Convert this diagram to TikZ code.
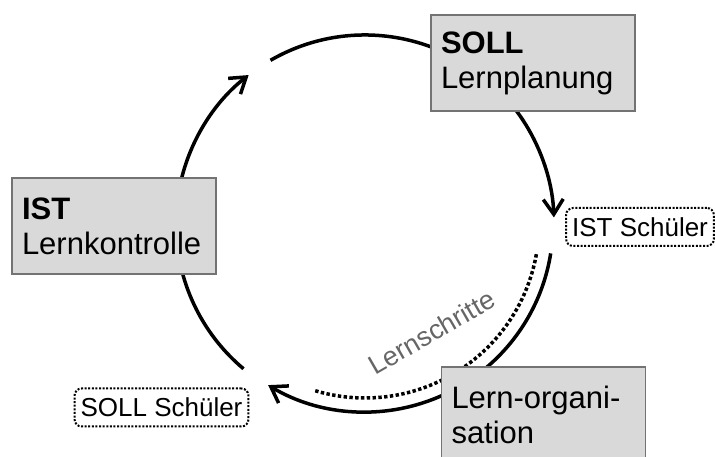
\documentclass[tikz,border=0pt]{standalone}
\usepackage{fontspec}
\setmainfont{Liberation Sans}
\usetikzlibrary{positioning,arrows.meta,calc}
\tikzset{
    x=1pt,
    y=1pt,
    block/.style = {
        draw=black!55,
        fill=black!15,
        shape=rectangle,
        minimum height=96pt,
        text width=184pt,
        inner xsep=10pt,
        align=left,
        line width=1.2pt,
        font=\fontsize{31}{35}\selectfont
    },
    pupil/.style = {
        draw,
        shape=rectangle,
        rounded corners=7pt,
        dash pattern=on 2pt off 1.6pt,
        line width=2pt,
        minimum height=38pt,
        inner xsep=6pt,
        font=\fontsize{26}{30}\selectfont
    },
    cycle/.style = {
        line width=3.5pt
    },
    >={Straight Barb[length=15pt,width=20pt]},
}

\begin{document}
\begin{tikzpicture}
    \clip (0,0) rectangle (715,457);
    \coordinate (mid) at (365,233);

    % the learning cycle
    \draw[cycle, ->] ($(mid)+(166:189pt)$) arc[start angle=166, end angle=128, radius=189pt];
    \draw[cycle, ->] ($(mid)+(120:189pt)$) arc[start angle=120, end angle=2, radius=189pt];
    \draw[cycle, ->] ($(mid)+(-9:188pt)$) arc[start angle=-9, end angle=-121, radius=188pt];
    \draw[cycle] ($(mid)+(-130:189pt)$) arc[start angle=-130, end angle=-165, radius=189pt];
    \draw[cycle, dash pattern=on 3.4pt off 2.4pt] ($(mid)+(-10:174pt)$) arc[start angle=-10, end angle=-107, radius=174pt];

    \node[block] (ist) at (114,231) {\textbf{IST}\\Lernkontrolle};
    \node[block] (soll) at (533,394) {\textbf{SOLL}\\Lernplanung};
    \node[block] (orga) at (543.5,42) {Lern-organi-\\sation};

    \node[pupil] (istsch) at (640,230) {IST Schüler};
    \node[pupil] (sollsch) at (161.5,49.5) {SOLL Schüler};

    \node[text=black!60, rotate=30, font=\fontsize{27}{30}\selectfont] (steps) at (432,125) {Lernschritte};
\end{tikzpicture}
\end{document}
